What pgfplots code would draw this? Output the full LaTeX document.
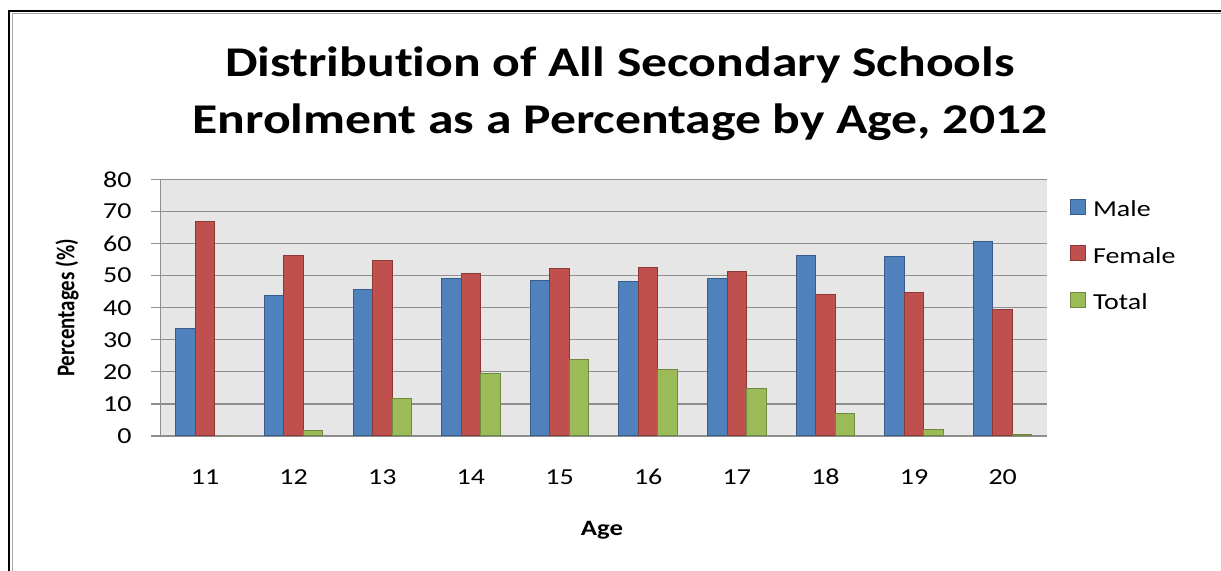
\documentclass[border=0pt]{standalone}
\usepackage{fontspec}
\setmainfont{Carlito}[FakeStretch=1.22, Ligatures=NoCommon]
\newfontfamily\plainfont{Carlito}[Ligatures=NoCommon]
\usepackage{graphicx}
\usepackage{pgfplots}
\pgfplotsset{compat=1.18}
\definecolor{maleF}{HTML}{4F81BD}
\definecolor{maleD}{HTML}{385D8A}
\definecolor{femF}{HTML}{C0504D}
\definecolor{femD}{HTML}{8C3836}
\definecolor{totF}{HTML}{9BBB59}
\definecolor{totD}{HTML}{71893F}
\definecolor{bgc}{HTML}{E6E6E6}
\definecolor{gridc}{HTML}{8E8E8E}
\begin{document}
\begin{tikzpicture}[x=1bp,y=1bp]
\path[use as bounding box, fill=white] (0,0) rectangle (1221,571);
\draw[black, line width=2.5bp] (9,0) -- (9,560) -- (1221,560);
\draw[gray!70, line width=1bp] (12,0) -- (12,557.5) -- (1221,557.5);
\node[anchor=base, font=\fontsize{42.5}{46}\selectfont\bfseries] at (620,494.5) {Distribution of All Secondary Schools};
\node[anchor=base, font=\fontsize{42.5}{46}\selectfont\bfseries] at (620,437.5) {Enrolment as a Percentage by Age, 2012};
\node[rotate=90, font=\plainfont\fontsize{21}{25}\selectfont\bfseries] at (67,263) {\scalebox{1}[1.22]{Percentages (\%)}};
\node[font=\fontsize{22}{26}\selectfont\bfseries] at (602,41) {Age};
\begin{axis}[
  at={(160.7bp,135bp)}, anchor=south west,
  width=886.3bp, height=256.7bp, scale only axis,
  ybar=0pt, bar width=19.5bp,
  xmin=10.5, xmax=20.5, ymin=0, ymax=80,
  enlargelimits=false,
  xtick={11,12,...,20}, ytick={0,10,...,80},
  axis lines*=left,
  axis line style={-, draw=gridc, line width=1.2bp},
  axis background/.style={fill=bgc},
  ymajorgrids, grid style={draw=gridc, line width=1.2bp},
  tick align=outside,
  x tick style={draw=none},
  y tick style={draw=gridc, line width=1.2bp},
  major tick length=10bp,
  /pgf/number format/assume math mode=true,
  ticklabel style={font=\fontsize{23}{27}\selectfont},
  xticklabel style={anchor=base, inner sep=0pt, yshift=-39bp},
  yticklabel style={anchor=east, inner sep=0pt, xshift=-19bp},
  legend style={draw=none, fill=none, inner sep=0pt, outer sep=0pt,
    at={(1.026,0.9244)}, anchor=north west,
    font=\fontsize{23}{27}\selectfont, row sep=28.5bp, column sep=7bp,
    nodes={inner sep=0pt, text height=15bp, text depth=0bp}},
  legend cell align=left,
  legend image code/.code={\draw[#1, line width=1bp] (0bp,-5bp) rectangle (15bp,10bp);},
]
\addplot[fill=maleF, draw=maleD, line width=1bp] coordinates {(11,33.6) (12,43.7) (13,45.7) (14,49.2) (15,48.5) (16,48.0) (17,49.2) (18,56.2) (19,55.9) (20,60.6)};
\addplot[fill=femF, draw=femD, line width=1bp] coordinates {(11,66.8) (12,56.2) (13,54.8) (14,50.7) (15,52.1) (16,52.4) (17,51.2) (18,44.2) (19,44.6) (20,39.5)};
\addplot[fill=totF, draw=totD, line width=1bp] coordinates {(11,0) (12,1.6) (13,11.7) (14,19.6) (15,23.8) (16,20.7) (17,14.9) (18,7.1) (19,2.0) (20,0.5)};
\legend{Male, Female, Total}
\end{axis}
\end{tikzpicture}
\end{document}
